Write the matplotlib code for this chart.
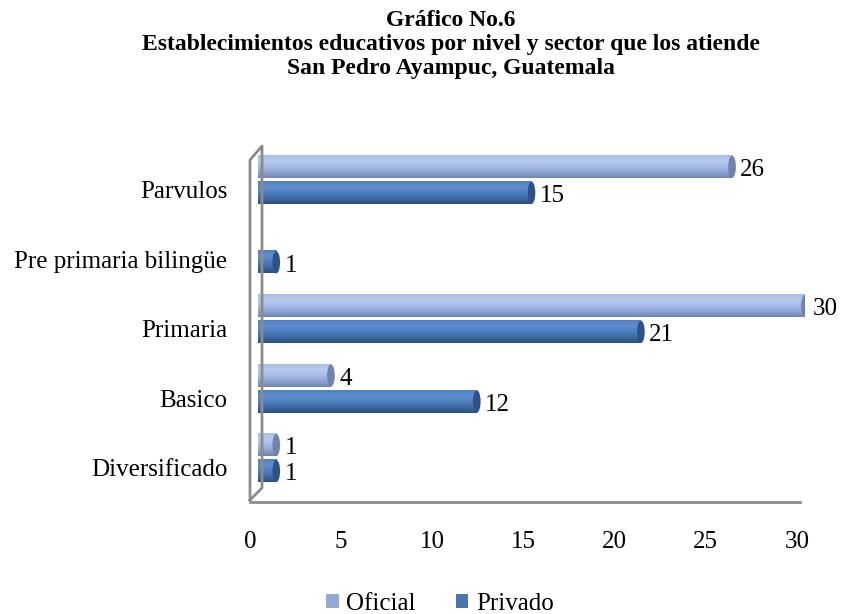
import numpy as np
import matplotlib
matplotlib.use("Agg")
import matplotlib.pyplot as plt
from matplotlib.patches import Ellipse, Patch
from matplotlib.colors import LinearSegmentedColormap
from matplotlib.lines import Line2D
import matplotlib.transforms as mtransforms

# datos
categorias = ["Diversificado", "Basico", "Primaria", "Pre primaria bilingüe", "Parvulos"]
oficial = [1, 4, 30, 0, 26]
privado = [1, 12, 21, 1, 15]
ticks = [0, 5, 10, 15, 20, 25, 30]

plt.rcParams['font.family'] = ['Liberation Serif', 'DejaVu Serif']

fig = plt.figure(figsize=(8.43, 6.14), dpi=100)
W, H = 843, 614
ax = fig.add_axes([258 / W, 1 - 502 / H, (805 - 258) / W, (502 - 145) / H])
ax.set_xlim(0, 30)
ax.set_ylim(-0.633, 4.50)
for s in ax.spines.values():
    s.set_visible(False)

# gradientes tipo cilindro (arriba claro, abajo oscuro)
cm_of = LinearSegmentedColormap.from_list("of", ["#6f84b0", "#8ea4d2", "#a6bce6", "#b8cbee", "#a9bfe7"])
cm_pr = LinearSegmentedColormap.from_list("pr", ["#2b4f80", "#3f6aa3", "#4e7fbf", "#5e8ed0", "#4f7fbe"])
grad = np.linspace(0, 1, 64).reshape(-1, 1)

bh = 0.32
off = 0.187
cap_w = 0.42

def cilindro(y, v, cmap, cap_col):
    if v <= 0:
        return
    ax.imshow(grad, cmap=cmap, aspect='auto', origin='lower',
              extent=(0, v, y - bh / 2, y + bh / 2), zorder=2)
    ax.add_patch(Ellipse((v, y), cap_w, bh, facecolor=cap_col, edgecolor='none', zorder=3))

for i in range(len(categorias)):
    cilindro(i + off, oficial[i], cm_of, "#7182ab")
    cilindro(i - off, privado[i], cm_pr, "#2d5288")

fs = 18
for i in range(len(categorias)):
    if oficial[i] > 0:
        ax.text(oficial[i] + 0.45, i + off - 0.05, str(oficial[i]), fontsize=fs,
                va='center', ha='left', zorder=4)
    if privado[i] > 0:
        ax.text(privado[i] + 0.45, i - off - 0.05, str(privado[i]), fontsize=fs,
                va='center', ha='left', zorder=4)

ax.set_yticks(range(len(categorias)))
ax.set_yticklabels(categorias, fontsize=fs)
ax.tick_params(axis='y', length=0, pad=22)
for lab in ax.get_yticklabels():
    lab.set_transform(lab.get_transform() + mtransforms.ScaledTranslation(0, -0.1, fig.dpi_scale_trans))

ax.set_xticks(ticks)
ax.set_xticklabels([str(t) for t in ticks], fontsize=fs)
ax.tick_params(axis='x', length=0, pad=21)
for lab in ax.get_xticklabels():
    lab.set_transform(lab.get_transform() + mtransforms.ScaledTranslation(-0.08, 0, fig.dpi_scale_trans))

# paredes 3D (en pixeles de la figura)
def px(x, y):
    return (x / W, 1 - y / H)

gris = "#8c8c8c"
lineas = [
    [(250, 500), (250, 160), (262, 146), (262, 488), (250, 500)],
    [(250, 502), (800, 502)],
]
for pts in lineas:
    xs, ys = zip(*[px(*p) for p in pts])
    fig.add_artist(Line2D(xs, ys, color=gris, lw=2, zorder=1))

# titulo
tfs = 17
fig.text(0.535, 0.966, "Gráfico No.6", ha='center', va='center', fontsize=tfs, fontweight='bold')
fig.text(0.535, 0.927, "Establecimientos educativos por nivel y sector que los atiende",
         ha='center', va='center', fontsize=tfs, fontweight='bold')
fig.text(0.535, 0.888, "San Pedro Ayampuc, Guatemala", ha='center', va='center',
         fontsize=tfs, fontweight='bold')

handles = [Patch(facecolor="#94a8d4", label="Oficial"), Patch(facecolor="#4a76b0", label="Privado")]
fig.legend(handles=handles, loc='center', bbox_to_anchor=(0.522, 0.017), ncol=2, frameon=False,
           fontsize=fs, handlelength=0.5, handleheight=0.5, handletextpad=0.3, columnspacing=1.6)

fig.savefig("out.png", dpi=100)
